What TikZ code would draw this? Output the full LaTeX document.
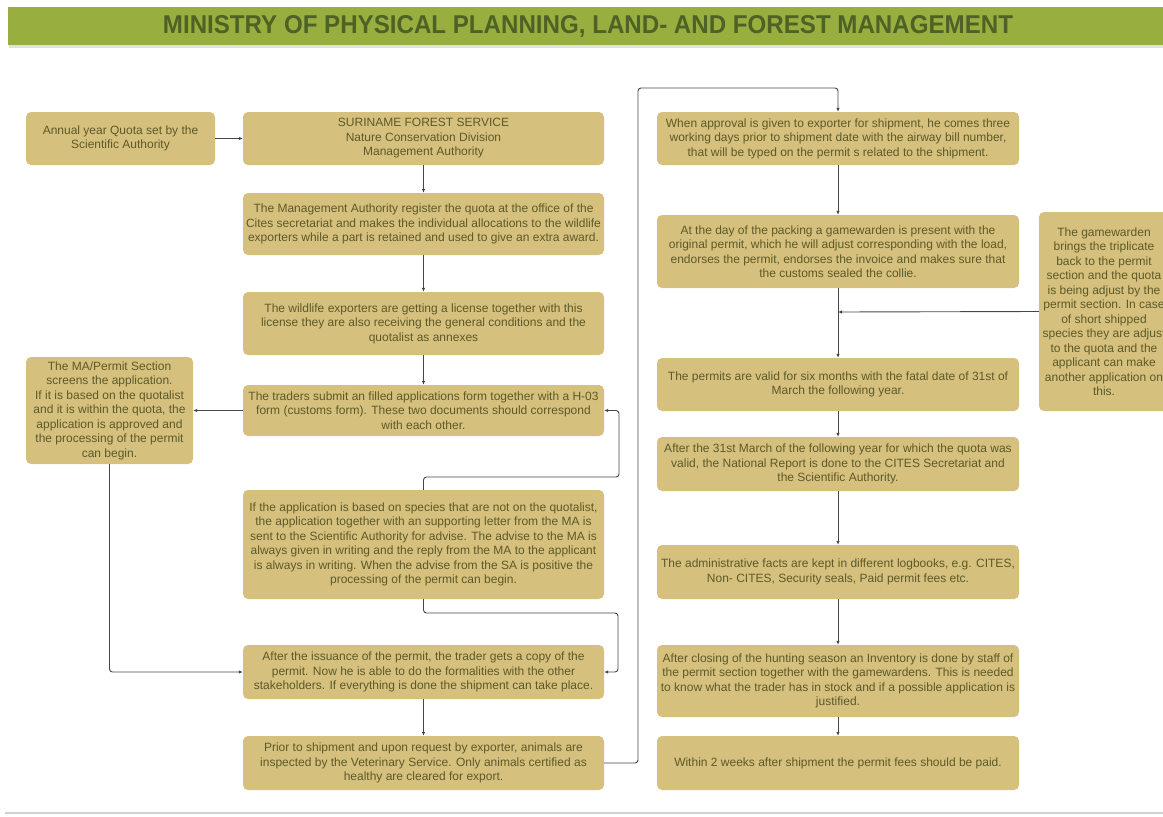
\documentclass[tikz,border=0pt]{standalone}
\usepackage{fontspec}
\setmainfont{Liberation Sans}
\usepackage{graphicx}
\usetikzlibrary{arrows.meta}
\definecolor{boxtan}{RGB}{214,192,126}
\definecolor{boxtext}{RGB}{92,90,40}
\definecolor{titlegreen}{RGB}{152,174,62}
\definecolor{titletext}{RGB}{78,98,38}
\definecolor{linkgray}{RGB}{70,70,70}
\begin{document}
\begin{tikzpicture}[x=1pt,y=-1pt]
            \tikzstyle{stepbox}=[fill=boxtan,rounded corners=5pt,text=boxtext,align=center,inner sep=0pt,
              font=\fontsize{12}{14.5}\selectfont]
            \tikzstyle{link}=[draw=linkgray,line width=0.9pt,rounded corners=3pt,-{Latex[length=4pt,width=3.5pt]}]
            \useasboundingbox (0,0) rectangle (1163,817);
            \fill[black!12] (9,10) rectangle (1163,48);
            \fill[titlegreen] (8,7) rectangle (1163,45);
            \node[anchor=base,text=titletext,inner sep=0pt](title) at (588,33)
              {\resizebox{850pt}{18pt}{\bfseries MINISTRY OF PHYSICAL PLANNING, LAND- AND FOREST MANAGEMENT}};
            \draw[black!18,line width=2pt] (5,813) -- (1163,813);
            % left column
            \node[stepbox,minimum width=189pt,minimum height=53pt](annual) at (120.5,138.5)
              {Annual year Quota set by the\\Scientific Authority};
            \node[stepbox,minimum width=361pt,minimum height=53pt](sfs) at (423.5,138.5)
              {SURINAME FOREST SERVICE\\Nature Conservation Division\\Management Authority};
            \node[stepbox,minimum width=361pt,minimum height=62pt](register) at (423.5,224)
              {The Management Authority register the quota at the office of the\\Cites secretariat and makes the individual allocations to the wildlife\\exporters while a part  is retained and used to give an extra award.};
            \node[stepbox,minimum width=361pt,minimum height=63pt](wildlife) at (423.5,323.5)
              {The wildlife exporters are getting a license together with this\\license they are also receiving the general conditions and the\\quotalist as annexes};
            \node[stepbox,minimum width=361pt,minimum height=51pt](traders) at (423.5,410.5)
              {The traders submit an filled applications form together with a H-03\\form (customs form). These two documents should correspond\\with each other.};
            \node[stepbox,minimum width=167pt,minimum height=107pt](permitsec) at (109.5,410.5)
              {The MA/Permit Section\\screens the application.\\If it is based on the quotalist\\and it is within the quota, the\\application is approved and\\the processing of the permit\\can begin.};
            \node[stepbox,minimum width=361pt,minimum height=109pt](specapp) at (423.5,544.5)
              {If the application is based on species that are not on the quotalist,\\the application together with an supporting letter from the MA  is\\sent to the Scientific Authority for advise.  The advise to the MA is\\always given in writing and the reply from the MA to the applicant\\is always in writing.  When the advise from the SA is positive  the\\processing of the permit can begin.};
            \node[stepbox,minimum width=361pt,minimum height=54pt](issuance) at (423.5,672)
              {After the issuance of the permit, the  trader gets a copy  of the\\permit.  Now he is able to do the formalities with the other\\stakeholders. If everything is done the shipment can take place.};
            \node[stepbox,minimum width=361pt,minimum height=54pt](vetcheck) at (423.5,763)
              {Prior  to shipment and  upon request  by exporter, animals  are\\inspected by  the Veterinary Service.  Only animals certified as\\healthy are cleared for export.};
            % right column
            \node[stepbox,minimum width=362pt,minimum height=53pt](approval) at (838,138.5)
              {When approval is given to exporter for shipment, he comes three\\working days  prior to shipment date with the airway bill number,\\that will be typed on the permit s related to the shipment.};
            \node[stepbox,minimum width=362pt,minimum height=73pt](packing) at (838,251.5)
              {At the day of the packing a gamewarden is present with the\\original permit, which he will adjust corresponding with the load,\\endorses the permit, endorses the invoice and  makes sure  that\\the customs sealed the collie.};
            \node[stepbox,minimum width=362pt,minimum height=53pt](valid) at (838,384.5)
              {The permits are valid for six months with the fatal  date of 31st of\\March the following year.};
            \node[stepbox,minimum width=362pt,minimum height=54pt](report) at (838,464)
              {After the 31st March  of the following year for which the quota was\\valid, the National Report  is done to the CITES Secretariat  and\\the Scientific Authority.};
            \node[stepbox,minimum width=362pt,minimum height=54pt](logbooks) at (838,572)
              {The administrative facts are kept in different logbooks, e.g. CITES,\\Non- CITES, Security seals, Paid permit fees etc.};
            \node[stepbox,minimum width=362pt,minimum height=72pt](inventory) at (838,681)
              {After closing of the hunting season an Inventory is done by staff of\\the permit section together with the gamewardens. This is needed\\to know what the trader has in stock and if a possible application is\\justified.};
            \node[stepbox,minimum width=362pt,minimum height=54pt](fees) at (838,763)
              {Within 2 weeks after shipment the permit fees should be paid.};
            \node[stepbox,minimum width=130pt,minimum height=199pt](gamewarden) at (1104,311.5)
              {The gamewarden\\brings the triplicate\\back to the permit\\section and  the  quota\\is being adjust by the\\permit section. In case\\of short shipped\\species they are adjust\\to the quota and the\\applicant can make\\another application on\\this.};
            % connectors
            \coordinate (upback) at (619,477);
            \coordinate (downback) at (618,613);
            \coordinate (overtop) at (638,88);
            \coordinate (merge) at (838,312);
            \draw[link] (annual) -- (sfs);
            \draw[link] (sfs) -- (register);
            \draw[link] (register) -- (wildlife);
            \draw[link] (wildlife) -- (traders);
            \draw[link] (traders) -- (permitsec);
            \draw[link] (specapp.north) |- (upback) |- (traders.east);
            \draw[link] (permitsec.south) |- (issuance.west);
            \draw[link] (specapp.south) |- (downback) |- (issuance.east);
            \draw[link] (issuance) -- (vetcheck);
            \draw[link] (vetcheck.east) -| (overtop) -| (approval.north);
            \draw[link] (approval) -- (packing);
            \draw[link] (packing) -- (valid);
            \draw[link] (gamewarden.west) -- (merge);
            \draw[link] (valid) -- (report);
            \draw[link] (report) -- (logbooks);
            \draw[link] (logbooks) -- (inventory);
            \draw[link] (inventory) -- (fees);
\end{tikzpicture}
\end{document}
